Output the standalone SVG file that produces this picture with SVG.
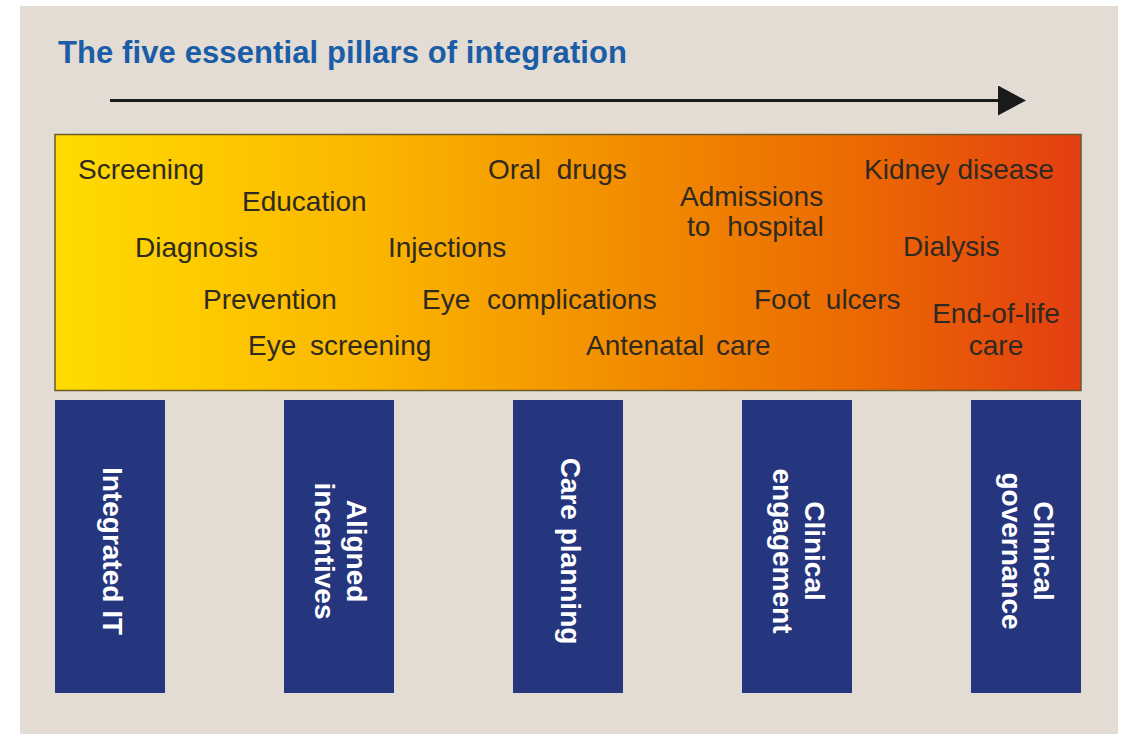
<svg xmlns="http://www.w3.org/2000/svg" width="1125" height="734" viewBox="0 0 1125 734">
  <defs>
    <linearGradient id="heat" x1="0" y1="0" x2="1" y2="0">
      <stop offset="0" stop-color="#ffdc00"/>
      <stop offset="0.3" stop-color="#fbb700"/>
      <stop offset="0.55" stop-color="#f28e00"/>
      <stop offset="0.8" stop-color="#eb6603"/>
      <stop offset="1" stop-color="#e33e12"/>
    </linearGradient>
    <marker id="head" markerUnits="userSpaceOnUse" markerWidth="30" markerHeight="32" refX="2" refY="15" orient="auto">
      <path d="M0,0 L28,15 L0,30 z" fill="#1a1a1a"/>
    </marker>
    <style>
      .title { font-family: "Liberation Sans", Arial, sans-serif; font-weight: bold; font-size: 31px; fill: #1b5ca7; }
      .item { font-family: "Liberation Sans", Arial, sans-serif; font-size: 28px; fill: #2e2a22; }
      .pillar { fill: #25367f; }
      .plabel { font-family: "Liberation Sans", Arial, sans-serif; font-weight: bold; font-size: 28px; fill: #ffffff; text-anchor: middle; }
    </style>
  </defs>

  <rect x="0" y="0" width="1125" height="734" fill="#ffffff"/>
  <rect id="panel" x="20" y="6" width="1098" height="728" fill="#e2dcd4"/>

  <text id="title" class="title" x="58" y="63" textLength="569" lengthAdjust="spacing">The five essential pillars of integration</text>

  <g id="connectors">
    <line x1="110" y1="100.5" x2="1000" y2="100.5" stroke="#1a1a1a" stroke-width="3" marker-end="url(#head)"/>
  </g>

  <g id="spectrum">
    <rect x="55" y="134.5" width="1026" height="256" fill="url(#heat)" stroke="#6b5a28" stroke-width="1.5"/>
    <text class="item" x="78" y="179">Screening</text>
    <text class="item" x="242" y="211">Education</text>
    <text class="item" x="135" y="257">Diagnosis</text>
    <text class="item" x="388" y="257">Injections</text>
    <text class="item" x="488" y="179">Oral <tspan dx="8">drugs</tspan></text>
    <text class="item" x="680" y="206">Admissions</text>
    <text class="item" x="687" y="236">to <tspan dx="9">hospital</tspan></text>
    <text class="item" x="864" y="179">Kidney disease</text>
    <text class="item" x="903" y="256">Dialysis</text>
    <text class="item" x="203" y="309">Prevention</text>
    <text class="item" x="248" y="355">Eye <tspan dx="6">screening</tspan></text>
    <text class="item" x="422" y="309">Eye <tspan dx="9">complications</tspan></text>
    <text class="item" x="586" y="355">Antenatal <tspan dx="4">care</tspan></text>
    <text class="item" x="754" y="309">Foot <tspan dx="8">ulcers</tspan></text>
    <text class="item" x="996" y="323" text-anchor="middle">End-of-life</text>
    <text class="item" x="996" y="355" text-anchor="middle">care</text>
  </g>

  <g id="pillar-integrated-it">
    <rect class="pillar" x="55" y="400" width="110" height="293"/>
    <text class="plabel" transform="translate(110,551) rotate(90)" x="0" y="7">Integrated IT</text>
  </g>
  <g id="pillar-aligned-incentives">
    <rect class="pillar" x="284" y="400" width="110" height="293"/>
    <text class="plabel" transform="translate(339,551) rotate(90)" x="0" y="-8">Aligned</text>
    <text class="plabel" transform="translate(339,551) rotate(90)" x="0" y="24">incentives</text>
  </g>
  <g id="pillar-care-planning">
    <rect class="pillar" x="513" y="400" width="110" height="293"/>
    <text class="plabel" transform="translate(568,551) rotate(90)" x="0" y="7">Care planning</text>
  </g>
  <g id="pillar-clinical-engagement">
    <rect class="pillar" x="742" y="400" width="110" height="293"/>
    <text class="plabel" transform="translate(797,551) rotate(90)" x="0" y="-8">Clinical</text>
    <text class="plabel" transform="translate(797,551) rotate(90)" x="0" y="24">engagement</text>
  </g>
  <g id="pillar-clinical-governance">
    <rect class="pillar" x="971" y="400" width="110" height="293"/>
    <text class="plabel" transform="translate(1026,551) rotate(90)" x="0" y="-8">Clinical</text>
    <text class="plabel" transform="translate(1026,551) rotate(90)" x="0" y="24">governance</text>
  </g>
</svg>
